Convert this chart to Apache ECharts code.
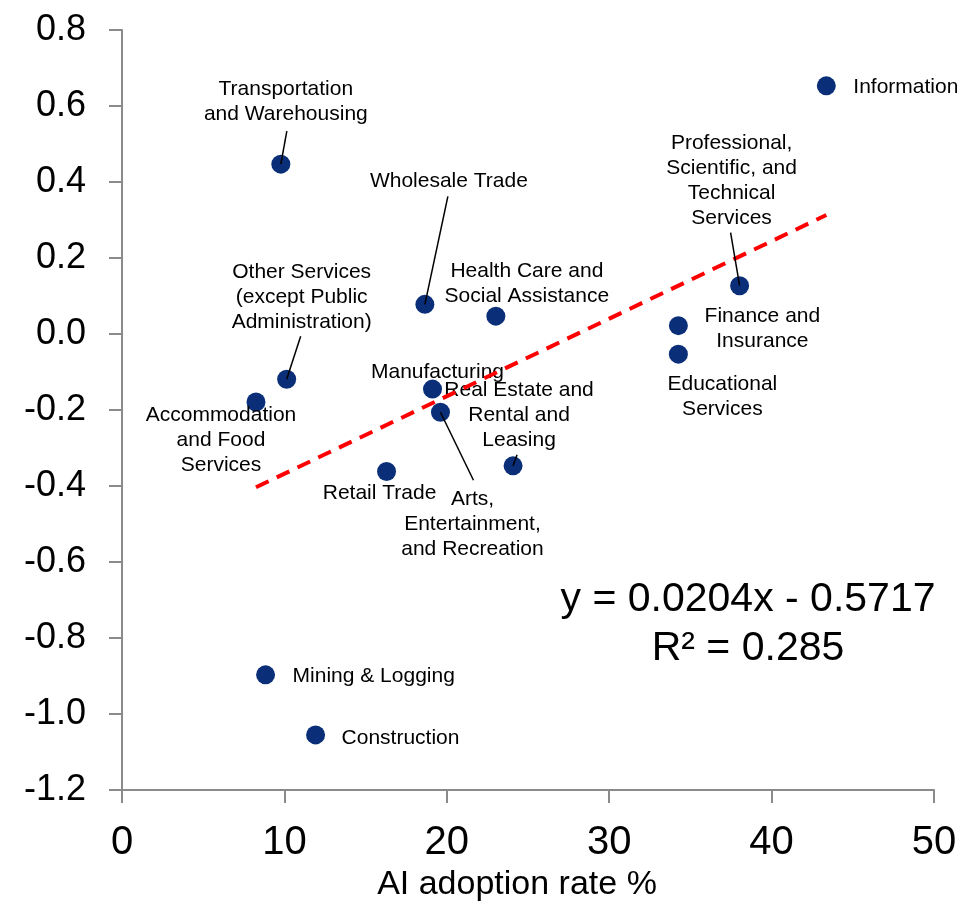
<!DOCTYPE html>
<html>
<head>
<meta charset="utf-8">
<script src="https://cdn.jsdelivr.net/npm/echarts@6/dist/echarts.min.js"></script>
<style>
html,body{margin:0;padding:0;background:#fff;}
#chart{width:957px;height:902px;}
</style>
</head>
<body>
<div id="chart"></div>
<script>
// ---- data ----
const industries = [
  "Information",
  "Transportation\nand Warehousing",
  "Professional,\nScientific, and\nTechnical\nServices",
  "Wholesale Trade",
  "Health Care and\nSocial Assistance",
  "Finance and\nInsurance",
  "Educational\nServices",
  "Other Services\n(except Public\nAdministration)",
  "Manufacturing",
  "Accommodation\nand Food\nServices",
  "Arts,\nEntertainment,\nand Recreation",
  "Real Estate and\nRental and\nLeasing",
  "Retail Trade",
  "Mining & Logging",
  "Construction"
];
const aiAdoption = [43.37, 9.78, 38.03, 18.65, 23.02, 34.26, 34.26, 10.14, 19.12, 8.25, 19.61, 24.08, 16.29, 8.84, 11.92];
const changeValue = [0.653, 0.447, 0.127, 0.078, 0.047, 0.022, -0.053, -0.119, -0.145, -0.179, -0.206, -0.347, -0.362, -0.897, -1.055];
const trendSlope = 0.0204;
const trendIntercept = -0.5717;
const rSquared = 0.285;
const xTicks = [0, 10, 20, 30, 40, 50];
const yTicks = [-1.2, -1.0, -0.8, -0.6, -0.4, -0.2, 0.0, 0.2, 0.4, 0.6, 0.8];

// ---- label layout (pixel offsets from point center) ----
const labelLayout = [
  {dx: 27, dy: 1, align: 'left'},
  {dx: 5, dy: -62, align: 'center'},
  {dx: -8, dy: -105, align: 'center'},
  {dx: 24, dy: -123, align: 'center'},
  {dx: 31, dy: -32, align: 'center'},
  {dx: 84, dy: 3, align: 'center'},
  {dx: 44, dy: 43, align: 'center'},
  {dx: 15, dy: -82, align: 'center'},
  {dx: 5, dy: -17, align: 'center'},
  {dx: -35, dy: 38, align: 'center'},
  {dx: 32, dy: 112, align: 'center'},
  {dx: 6, dy: -51, align: 'center'},
  {dx: -7, dy: 22, align: 'center'},
  {dx: 27, dy: 1, align: 'left'},
  {dx: 26, dy: 3, align: 'left'}
];
// leader lines: [index, dx, dy] end offsets in pixels from point center
const leaders = [
  [1, 6, -33],
  [3, 23, -108],
  [7, 14, -43],
  [2, -9, -53],
  [11, 4, -11],
  [10, 33, 68]
];

const FONT = '"Liberation Sans", Arial, Helvetica, sans-serif';

const scatterData = industries.map((name, i) => ({
  name: name,
  value: [aiAdoption[i], changeValue[i]],
  label: {
    show: true,
    position: 'inside',
    offset: [labelLayout[i].dx, labelLayout[i].dy],
    align: labelLayout[i].align,
    verticalAlign: 'middle',
    formatter: name,
    fontSize: 21,
    lineHeight: 25,
    color: '#000',
    opacity: 1,
    fontFamily: FONT
  }
}));

const xMin = Math.min(...aiAdoption);
const xMax = Math.max(...aiAdoption);
const trendData = [
  [xMin, trendSlope * xMin + trendIntercept],
  [xMax, trendSlope * xMax + trendIntercept]
];

const chart = echarts.init(document.getElementById('chart'), null, {renderer: 'canvas'});
chart.setOption({
  backgroundColor: '#ffffff',
  animation: false,
  grid: {left: 122, right: 23, top: 30, bottom: 112, containLabel: false, outerBoundsMode: 'none'},
  xAxis: {
    type: 'value',
    min: xTicks[0],
    max: xTicks[xTicks.length - 1],
    interval: 10,
    name: 'AI adoption rate %',
    nameLocation: 'middle',
    nameGap: 74,
    nameTextStyle: {fontSize: 34, color: '#000', fontFamily: FONT, padding: [0, 22, 0, 0]},
    axisLine: {show: true, onZero: false, lineStyle: {color: '#8a8a8a', width: 2}},
    axisTick: {show: true, length: 13, lineStyle: {color: '#8a8a8a', width: 2}},
    axisLabel: {fontSize: 40, color: '#000', fontFamily: FONT, margin: 33},
    splitLine: {show: false}
  },
  yAxis: {
    type: 'value',
    min: yTicks[0],
    max: yTicks[yTicks.length - 1],
    interval: 0.2,
    axisLine: {show: true, lineStyle: {color: '#8a8a8a', width: 2}},
    axisTick: {show: true, length: 13, lineStyle: {color: '#8a8a8a', width: 2}},
    axisLabel: {
      fontSize: 36, color: '#000', fontFamily: FONT, margin: 36,
      padding: [6, 0, 0, 0],
      formatter: v => (Math.abs(v) < 1e-9 ? 0 : v).toFixed(1)
    },
    splitLine: {show: false}
  },
  series: [
    {
      type: 'scatter',
      symbol: 'circle',
      symbolSize: 19,
      itemStyle: {color: '#0a2f78', opacity: 1},
      data: scatterData,
      z: 3,
      emphasis: {disabled: true}
    },
    {
      type: 'line',
      data: trendData,
      showSymbol: false,
      symbol: 'none',
      lineStyle: {color: '#ff0000', width: 4, type: [14, 9]},
      z: 4,
      silent: true
    },
    {
      type: 'custom',
      data: leaders.map(l => [aiAdoption[l[0]], changeValue[l[0]], l[1], l[2]]),
      renderItem: function (params, api) {
        const p = api.coord([api.value(0), api.value(1)]);
        return {
          type: 'line',
          shape: {x1: p[0], y1: p[1], x2: p[0] + api.value(2), y2: p[1] + api.value(3)},
          style: {stroke: '#000', lineWidth: 1.5}
        };
      },
      z: 5,
      silent: true
    }
  ],
  graphic: [
    {
      type: 'text', x: 748, y: 600,
      style: {text: 'y = ' + trendSlope.toFixed(4) + 'x - ' + Math.abs(trendIntercept).toFixed(4),
        font: '41px ' + FONT, fill: '#000', align: 'center', verticalAlign: 'middle'}
    },
    {
      type: 'text', x: 748, y: 649,
      style: {text: 'R² = ' + rSquared.toFixed(3),
        font: '41px ' + FONT, fill: '#000', align: 'center', verticalAlign: 'middle'}
    }
  ]
});
</script>
</body>
</html>
